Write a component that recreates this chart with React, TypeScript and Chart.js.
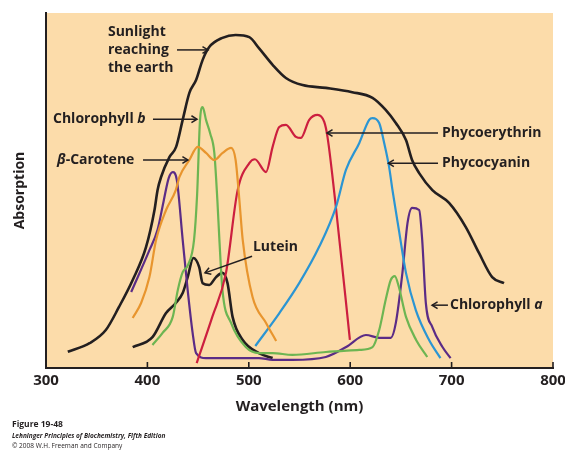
import React, { useEffect, useRef } from 'react';
import { Chart, registerables } from 'chart.js';

Chart.register(...registerables);

const FONT = '"Open Sans", "DejaVu Sans", sans-serif';
const INK = '#231f20';
const PEACH = '#fcdcaa';

// ---- data (wavelength in nm, absorption in arbitrary units 0-100) ----
const sunlightNm = [321.5, 343, 359, 372, 385.5, 398.7, 407, 410, 413.5, 421.7, 428.3, 434.8, 441.4, 448, 454.5, 461, 474, 487, 500.5, 510, 523.5, 536.6, 553, 576, 602, 622, 635, 645, 655, 661, 668, 681, 697.5, 714, 727, 740, 751.7];
const sunlightAbs = [4.6, 7.0, 10.7, 17.2, 24.8, 34.1, 44.5, 50.1, 53.8, 59.4, 62.3, 69.9, 77.5, 81.1, 86.8, 90.4, 93.0, 93.8, 93.2, 90.1, 85.4, 81.7, 79.7, 78.9, 77.7, 76.1, 72.7, 69.0, 64.2, 58.6, 54.9, 50.1, 46.5, 39.7, 32.4, 25.6, 23.9];

const caroteneNm = [385.5, 393.8, 402, 408.6, 418.4, 428, 431.5, 441.4, 449.6, 457.8, 466, 474.2, 482.5, 487, 490.5, 494, 503.7, 517, 527];
const caroteneAbs = [14.1, 18.3, 25.6, 36.1, 44.5, 50.1, 53.8, 58.6, 62.3, 60.6, 58.6, 60.6, 62.0, 58.6, 48.0, 36.1, 20.0, 12.7, 7.6];

const chlBNm = [405, 415, 425, 430, 434.8, 440, 446, 449, 451.9, 454.5, 457.8, 462, 466, 469, 471, 474, 482.5, 497, 510, 523.5, 543, 576, 609, 622, 628.6, 635, 640, 644, 648, 655, 665, 676];
const chlBAbs = [6.5, 9.9, 14.4, 22.0, 27.0, 29.0, 36.1, 48.7, 69.9, 73.5, 69.9, 66.0, 60.6, 47.3, 36.1, 22.0, 12.7, 5.9, 4.2, 4.2, 3.7, 4.5, 5.1, 5.9, 10.7, 19.2, 24.8, 25.9, 22.8, 14.4, 7.9, 3.1];

const chlANm = [384, 402, 410, 416, 421, 425, 429, 434.8, 439.7, 444.6, 448, 457.8, 490.6, 510, 523.5, 543, 576, 596, 615.5, 628.6, 640, 645, 651.5, 656.5, 661, 668, 671, 674.6, 681, 691, 699];
const chlAAbs = [21.4, 33.2, 38.9, 47.0, 53.5, 55.2, 53.0, 36.1, 22.0, 9.9, 4.2, 2.8, 2.8, 2.8, 2.3, 2.3, 3.1, 5.9, 9.3, 8.5, 8.5, 12.7, 26.8, 40.8, 45.1, 44.5, 36.1, 18.3, 11.5, 5.9, 2.8];

const phycoerythrinNm = [448.6, 464, 477.5, 489, 500.5, 506, 517, 523.5, 530, 536.6, 546.5, 551.4, 559.6, 567.8, 574.4, 577.6, 586, 599.7];
const phycoerythrinAbs = [1.4, 14.4, 26.8, 50.1, 57.7, 58.8, 55.2, 62.3, 67.9, 68.5, 65.1, 64.8, 69.9, 71.3, 69.3, 65.1, 45.0, 7.9];

const phycocyaninNm = [506.4, 530, 549.7, 569.5, 586, 595.8, 609, 618.7, 622, 628.6, 633.5, 638.4, 641.7, 648, 655, 664.7, 677.8, 689];
const phycocyaninAbs = [6.2, 15.4, 23.9, 34.2, 45.4, 55.8, 63.4, 69.9, 70.4, 69.0, 63.4, 56.6, 50.1, 38.9, 26.8, 16.3, 7.9, 2.8];

const luteinNm = [385.5, 405, 418.4, 428, 434.8, 439.7, 445.3, 451, 454.5, 461, 467.7, 474, 479, 484, 494, 510, 523.5];
const luteinAbs = [5.9, 8.7, 15.5, 18.3, 21.1, 25.6, 31.0, 28.5, 23.9, 23.4, 25.6, 26.8, 23.9, 14.4, 7.9, 4.2, 2.8];

const xMin = 300;
const xMax = 800;
const xStep = 100;

const pts = (xs: number[], ys: number[]) => xs.map((x, i) => ({ x, y: ys[i] }));

type Run = [string, boolean];

function drawRuns(ctx: CanvasRenderingContext2D, x: number, y: number, runs: Run[], size: number) {
  let cx = x;
  for (const [t, it] of runs) {
    ctx.font = `${it ? 'italic ' : ''}bold ${size}px ${FONT}`;
    ctx.fillText(t, cx, y);
    cx += ctx.measureText(t).width;
  }
}

function arrow(ctx: CanvasRenderingContext2D, x1: number, y1: number, x2: number, y2: number) {
  ctx.beginPath();
  ctx.moveTo(x1, y1);
  ctx.lineTo(x2, y2);
  ctx.stroke();
  const a = Math.atan2(y2 - y1, x2 - x1);
  const L = 6.5;
  const s = 0.55;
  ctx.beginPath();
  ctx.moveTo(x2 - L * Math.cos(a - s), y2 - L * Math.sin(a - s));
  ctx.lineTo(x2, y2);
  ctx.lineTo(x2 - L * Math.cos(a + s), y2 - L * Math.sin(a + s));
  ctx.stroke();
}

const bgPlugin = {
  id: 'bg',
  beforeDraw(chart: any) {
    const { ctx, chartArea: ca } = chart;
    ctx.save();
    ctx.fillStyle = '#ffffff';
    ctx.fillRect(0, 0, chart.width, chart.height);
    ctx.fillStyle = PEACH;
    ctx.fillRect(ca.left, ca.top, ca.right - ca.left, ca.bottom - ca.top);
    ctx.restore();
  },
};

const annotPlugin = {
  id: 'annot',
  afterDatasetsDraw(chart: any) {
    const { ctx, chartArea: ca } = chart;
    const xs = chart.scales.x;
    const ys = chart.scales.y;
    const X = (v: number) => xs.getPixelForValue(v);
    const Y = (v: number) => ys.getPixelForValue(v);
    ctx.save();
    // inner tick marks on the wavelength axis
    ctx.strokeStyle = INK;
    ctx.lineWidth = 1.6;
    for (const t of xs.ticks) {
      if (t.value === xMin) continue;
      const px = X(t.value);
      ctx.beginPath();
      ctx.moveTo(px, ca.bottom);
      ctx.lineTo(px, ca.bottom - 6);
      ctx.stroke();
    }
    ctx.fillStyle = INK;
    ctx.textBaseline = 'middle';
    ctx.textAlign = 'left';
    const S = 14;
    // Sunlight
    drawRuns(ctx, X(361.1), Y(94.7), [['Sunlight', false]], S);
    drawRuns(ctx, X(361.1), Y(89.6), [['reaching', false]], S);
    drawRuns(ctx, X(361.1), Y(84.5), [['the earth', false]], S);
    ctx.lineWidth = 1.5;
    arrow(ctx, X(429.2), Y(89.6), X(459.8), Y(89.6));
    // Chlorophyll b
    drawRuns(ctx, X(306.9), Y(70.1), [['Chlorophyll ', false], ['b', true]], S);
    arrow(ctx, X(405.5), Y(70.1), X(448.9), Y(70.1));
    // beta-Carotene
    drawRuns(ctx, X(310.8), Y(58.6), [['\u03b2', true], ['-Carotene', false]], S);
    arrow(ctx, X(395.7), Y(58.6), X(440), Y(58.6));
    // Lutein
    drawRuns(ctx, X(504.1), Y(34.1), [['Lutein', false]], S);
    arrow(ctx, X(503.2), Y(31.5), X(456.8), Y(26.8));
    // Phycoerythrin
    drawRuns(ctx, X(690.5), Y(66.2), [['Phycoerythrin', false]], S);
    arrow(ctx, X(686.6), Y(66.2), X(577.1), Y(66.2));
    // Phycocyanin
    drawRuns(ctx, X(690.5), Y(57.7), [['Phycocyanin', false]], S);
    arrow(ctx, X(686.6), Y(57.7), X(637.6), Y(57.7));
    // Chlorophyll a
    arrow(ctx, X(696.4), Y(17.7), X(680.7), Y(17.7));
    drawRuns(ctx, X(698.4), Y(17.7), [['Chlorophyll ', false], ['a', true]], S);
    // caption
    ctx.font = `bold 8.5px ${FONT}`;
    ctx.fillText('Figure 19-48', 12, 425);
    ctx.font = `italic bold 6.5px ${FONT}`;
    ctx.fillText('Lehninger Principles of Biochemistry, Fifth Edition', 12, 436);
    ctx.font = `6.5px ${FONT}`;
    ctx.fillText('\u00a9 2008 W.H. Freeman and Company', 12, 446);
    ctx.restore();
  },
};

export default function App() {
  const ref = useRef<HTMLCanvasElement | null>(null);
  useEffect(() => {
    if (!ref.current) return;
    const line = (data: any, color: string, w = 2.2) => ({
      data,
      borderColor: color,
      borderWidth: w,
      pointRadius: 0,
      fill: false,
      cubicInterpolationMode: 'monotone' as const,
    });
    const chart = new Chart(ref.current, {
      type: 'line',
      data: {
        datasets: [
          line(pts(sunlightNm, sunlightAbs), INK, 2.6),
          line(pts(caroteneNm, caroteneAbs), '#e8952e'),
          line(pts(phycocyaninNm, phycocyaninAbs), '#2b95d3'),
          line(pts(phycoerythrinNm, phycoerythrinAbs), '#cc1f3f'),
          line(pts(chlBNm, chlBAbs), '#6db552'),
          line(pts(chlANm, chlAAbs), '#5b2c86'),
          line(pts(luteinNm, luteinAbs), INK, 2.6),
        ] as any,
      },
      options: {
        responsive: false,
        animation: false,
        devicePixelRatio: 1,
        layout: { padding: { left: 0, right: 12, top: 13, bottom: 0 } },
        plugins: { legend: { display: false }, tooltip: { enabled: false } },
        scales: {
          x: {
            type: 'linear',
            min: xMin,
            max: xMax,
            ticks: {
              stepSize: xStep,
              font: { family: FONT, size: 15, weight: 'bold' },
              color: INK,
              padding: 4,
              maxRotation: 0,
            },
            grid: { display: false, drawTicks: false },
            border: { display: true, color: INK, width: 2 },
            title: {
              display: true,
              text: 'Wavelength (nm)',
              font: { family: FONT, size: 15, weight: 'bold' },
              color: INK,
              padding: { top: 0, bottom: 34 },
            },
            afterFit: (s: any) => {
              s.height = 82;
              s.paddingLeft = 0;
              s.paddingRight = 0;
            },
          },
          y: {
            min: 0,
            max: 100,
            ticks: { display: false },
            grid: { display: false, drawTicks: false },
            border: { display: true, color: INK, width: 2 },
            title: {
              display: true,
              text: 'Absorption',
              font: { family: FONT, size: 14, weight: 'bold' },
              color: INK,
              padding: { top: 12, bottom: 0 },
            },
            afterFit: (s: any) => {
              s.width = 46;
              s.paddingTop = 0;
              s.paddingBottom = 0;
            },
          },
        },
      } as any,
      plugins: [bgPlugin, annotPlugin],
    });
    return () => chart.destroy();
  }, []);
  return (
    <div style={{ position: 'fixed', left: 0, top: 0, width: 565, height: 450, background: '#fff' }}>
      <canvas ref={ref} width={565} height={450} style={{ display: 'block' }} />
    </div>
  );
}
